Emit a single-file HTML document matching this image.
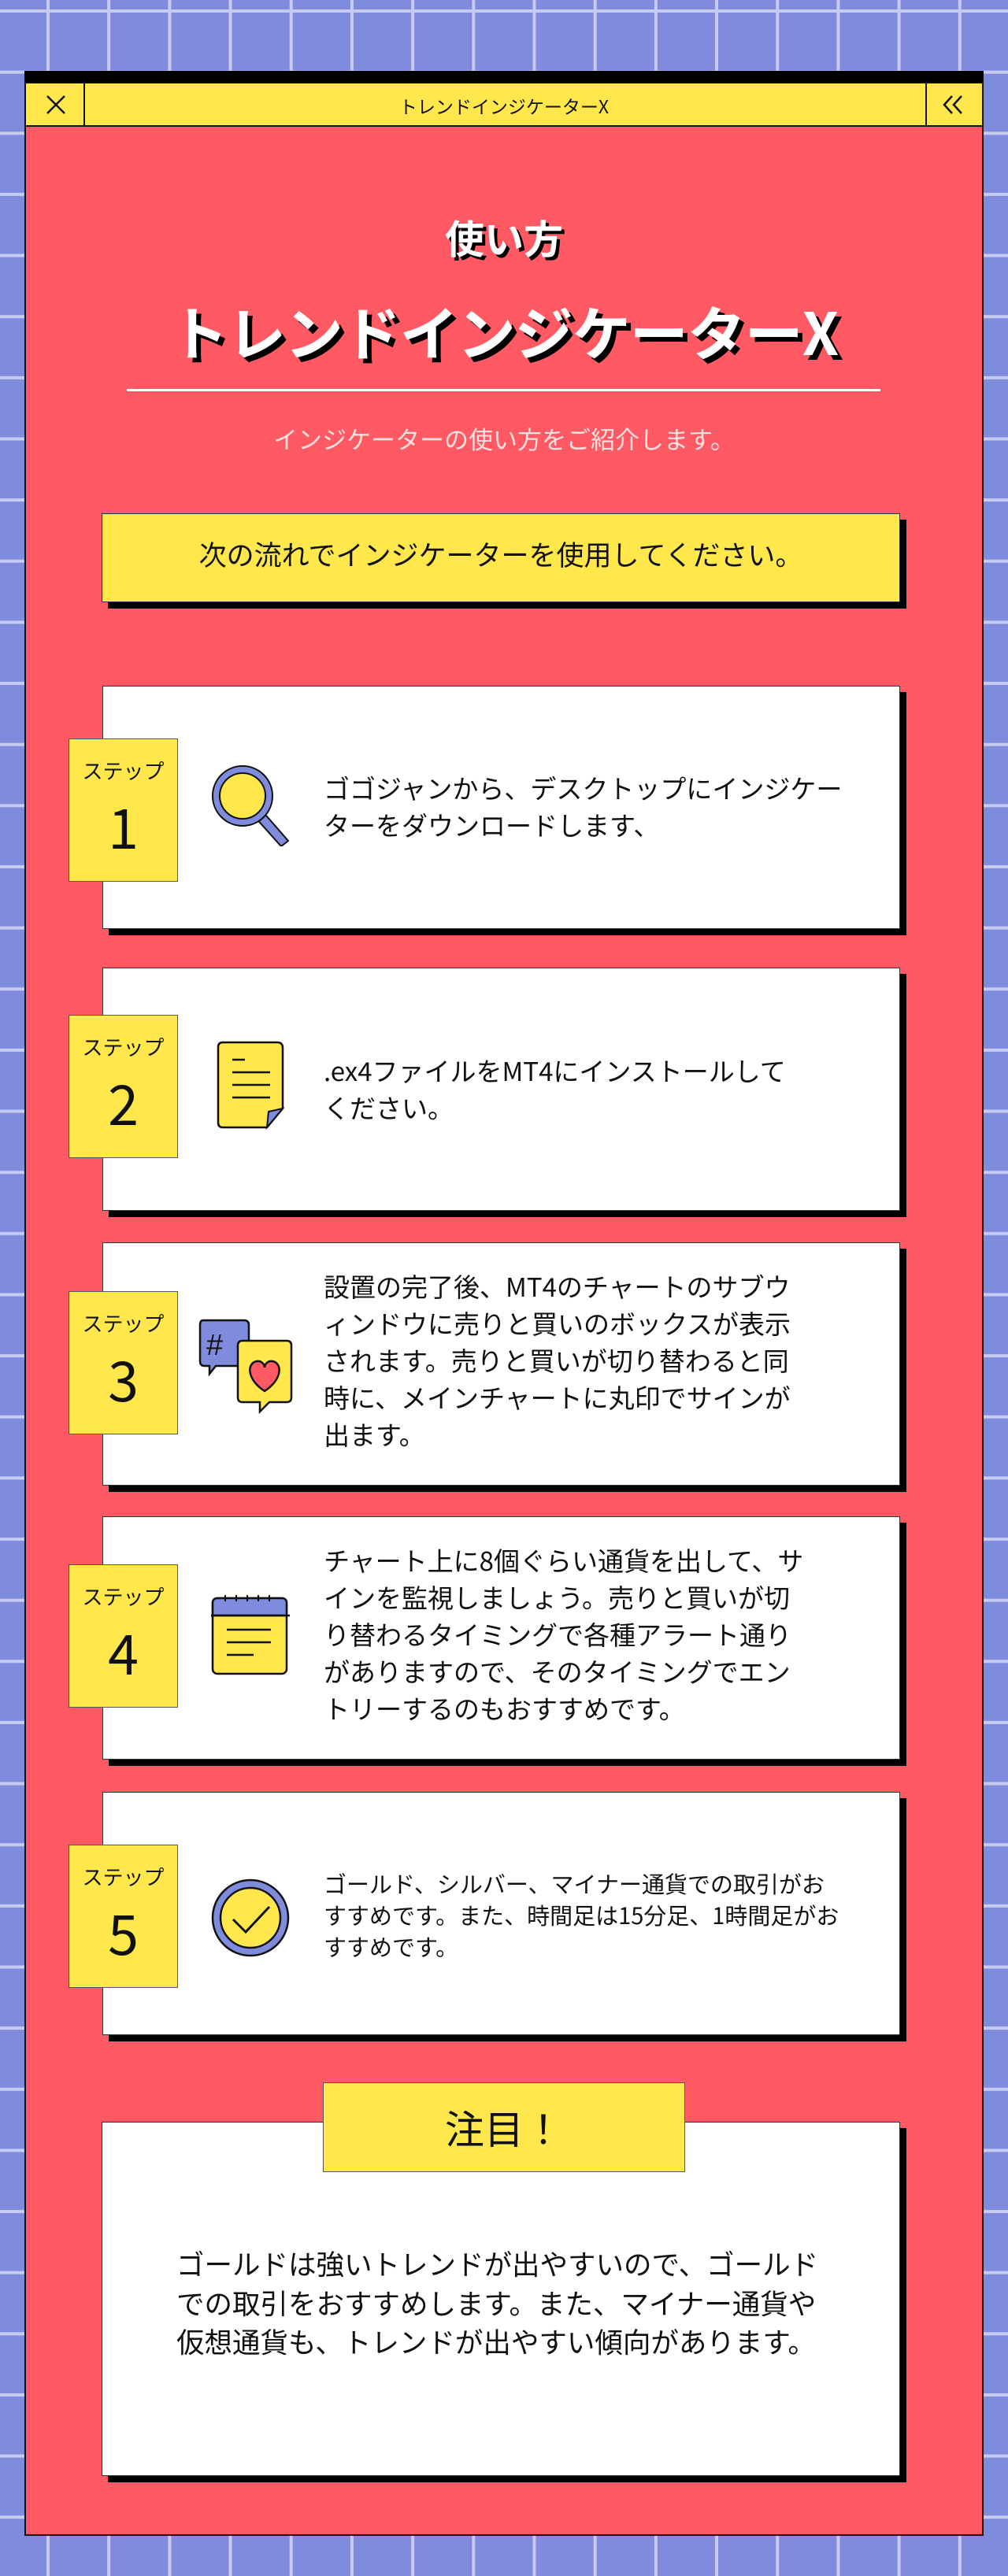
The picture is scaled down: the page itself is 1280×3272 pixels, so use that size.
<!DOCTYPE html>
<html><head><meta charset="utf-8"><style>
*{margin:0;padding:0;box-sizing:border-box}
body{width:1280px;height:3272px;position:relative;overflow:hidden;background:#7f8bdc;font-family:"Liberation Sans","Noto Sans CJK JP",sans-serif;color:#111}
.grid{position:absolute;left:0;top:0;width:1280px;height:3272px;
background-image:linear-gradient(to right,#c7cbf1 0,#c7cbf1 4px,transparent 4px),linear-gradient(to bottom,#c7cbf1 0,#c7cbf1 4px,transparent 4px);
background-size:77.2px 77.65px;background-position:59px 12px}
.abs{position:absolute}
.panel{left:31px;top:90px;width:1218px;height:3131px;background:#ff5a64;border:2px solid #111;border-top:16px solid #000}
.bar{left:33px;top:106px;width:1214px;height:55px;background:#ffe74c;border-bottom:2px solid #111}
.t{white-space:nowrap;font-family:"Noto Sans CJK JP",sans-serif}
.card{background:#fff;border:1px solid #333;box-shadow:8px 8px 0 #000}
.tag{left:87px;width:139px;height:182px;background:#ffe74c;border:1px solid #555}
.tag .s{position:absolute;left:0;width:100%;top:22px;text-align:center;font-size:26px;line-height:36px}
.tag .n{position:absolute;left:0;width:100%;top:60px;text-align:center;font-size:70px;line-height:100px;font-family:"Noto Sans CJK JP",sans-serif}
.txt{left:411px;font-size:33px;line-height:47px;color:#111}
</style></head><body>
<div class="grid"></div>
<div class="abs panel"></div>
<div class="abs bar"></div>
<div class="abs" style="left:106px;top:106px;width:2px;height:55px;background:#111"></div>
<div class="abs" style="left:1175px;top:106px;width:2px;height:55px;background:#111"></div>
<svg class="abs" style="left:56px;top:118px" width="30" height="30"><path d="M4 4L26 26M26 4L4 26" stroke="#111" stroke-width="2.5"/></svg>
<svg class="abs" style="left:1195px;top:118px" width="36" height="30"><path d="M14 4L4 15L14 26M26 4L16 15L26 26" stroke="#111" stroke-width="2.5" fill="none"/></svg>
<div class="abs t" style="left:0;width:1280px;top:118px;text-align:center;font-size:23px;line-height:32px">トレンドインジケーターX</div>

<div class="abs t" style="left:0;width:1280px;top:266px;text-align:center;font-size:50px;line-height:70px;font-weight:bold;color:#fff;text-shadow:4px 4px 0 #000">使い方</div>
<div class="abs t" style="left:0;width:1280px;top:370px;text-align:center;font-size:74px;line-height:100px;font-weight:bold;color:#fff;text-shadow:6px 6px 0 #000;letter-spacing:-1px">トレンドインジケーターX</div>
<div class="abs" style="left:161px;top:494px;width:957px;height:3px;background:#fff"></div>
<div class="abs t" style="left:0;width:1280px;top:535px;text-align:center;font-size:31px;line-height:44px;color:#fde0e0">インジケーターの使い方をご紹介します。</div>

<div class="abs card" style="left:129px;top:652px;width:1014px;height:113px;background:#ffe74c"></div>
<div class="abs t" style="left:129px;width:1014px;top:680px;text-align:center;font-size:35px;line-height:48px">次の流れでインジケーターを使用してください。</div>

<!-- step 1 -->
<div class="abs card" style="left:130px;top:871px;width:1013px;height:309px"></div>
<div class="abs tag" style="top:938px"><div class="s t">ステップ</div><div class="n">1</div></div>
<svg class="abs" style="left:262px;top:965px" width="110" height="110"><path d="M61 72L95 110L104 103L70 64Z" fill="#7f8bdc" stroke="#111" stroke-width="2"/><circle cx="46" cy="46" r="38" fill="#7f8bdc" stroke="#111" stroke-width="2"/><circle cx="46" cy="46" r="29" fill="#ffe74c" stroke="#111" stroke-width="2"/></svg>
<div class="abs t txt" style="top:977px">ゴゴジャンから、デスクトップにインジケー<br>ターをダウンロードします、</div>

<!-- step 2 -->
<div class="abs card" style="left:130px;top:1229px;width:1013px;height:309px"></div>
<div class="abs tag" style="top:1289px"><div class="s t">ステップ</div><div class="n">2</div></div>
<svg class="abs" style="left:275px;top:1322px" width="90" height="116"><path d="M8 2H77Q84 2 84 9V86L64 110H8Q2 110 2 104V8Q2 2 8 2Z" fill="#ffe74c" stroke="#111" stroke-width="2.5"/><path d="M84 86L64 110L66 90Z" fill="#7f8bdc" stroke="#111" stroke-width="2"/><path d="M20 24H36M20 40H68M20 56H68M20 72H68" stroke="#111" stroke-width="2.5"/></svg>
<div class="abs t txt" style="top:1336px">.ex4ファイルをMT4にインストールして<br>ください。</div>

<!-- step 3 -->
<div class="abs card" style="left:130px;top:1578px;width:1013px;height:309px"></div>
<div class="abs tag" style="top:1640px"><div class="s t">ステップ</div><div class="n">3</div></div>
<svg class="abs" style="left:252px;top:1675px" width="125" height="125"><path d="M6 2H58Q64 2 64 8V54Q64 60 58 60H22L14 70V60H8Q2 60 2 54V8Q2 2 6 2Z" fill="#7f8bdc" stroke="#111" stroke-width="2.5"/><text x="10" y="46" font-size="38" font-family="Liberation Sans" fill="#111">#</text><path d="M56 28H112Q118 28 118 34V100Q118 106 112 106H90L78 118V106H56Q50 106 50 100V34Q50 28 56 28Z" fill="#ffe74c" stroke="#111" stroke-width="2.5"/><path d="M84 92C60 76 62 56 74 54C80 53 84 58 84 62C84 58 88 53 94 54C106 56 108 76 84 92Z" fill="#ff5a64" stroke="#111" stroke-width="2.5"/></svg>
<div class="abs t txt" style="top:1610px">設置の完了後、MT4のチャートのサブウ<br>ィンドウに売りと買いのボックスが表示<br>されます。売りと買いが切り替わると同<br>時に、メインチャートに丸印でサインが<br>出ます。</div>

<!-- step 4 -->
<div class="abs card" style="left:130px;top:1926px;width:1013px;height:309px"></div>
<div class="abs tag" style="top:1987px"><div class="s t">ステップ</div><div class="n">4</div></div>
<svg class="abs" style="left:266px;top:2026px" width="104" height="106"><rect x="4" y="4" width="94" height="96" rx="6" fill="#ffe74c" stroke="#111" stroke-width="2.5"/><path d="M4 26V10Q4 4 10 4H92Q98 4 98 10V26Z" fill="#7f8bdc" stroke="#111" stroke-width="2.5"/><path d="M2 26H102" stroke="#111" stroke-width="2.5"/><path d="M20 0V8M34 0V8M48 0V8M62 0V8M76 0V8" stroke="#111" stroke-width="2"/><path d="M22 44H78M22 60H78M22 76H56" stroke="#111" stroke-width="2.5"/></svg>
<div class="abs t txt" style="top:1958px">チャート上に8個ぐらい通貨を出して、サ<br>インを監視しましょう。売りと買いが切<br>り替わるタイミングで各種アラート通り<br>がありますので、そのタイミングでエン<br>トリーするのもおすすめです。</div>

<!-- step 5 -->
<div class="abs card" style="left:130px;top:2276px;width:1013px;height:309px"></div>
<div class="abs tag" style="top:2343px"><div class="s t">ステップ</div><div class="n">5</div></div>
<svg class="abs" style="left:266px;top:2384px" width="104" height="104"><circle cx="52" cy="52" r="48" fill="#7f8bdc" stroke="#111" stroke-width="2.5"/><circle cx="52" cy="52" r="38" fill="#ffe74c" stroke="#111" stroke-width="2.5"/><path d="M30 54L46 70L76 38" stroke="#111" stroke-width="3" fill="none"/></svg>
<div class="abs t txt" style="top:2372px;font-size:29px;line-height:40px">ゴールド、シルバー、マイナー通貨での取引がお<br>すすめです。また、時間足は15分足、1時間足がお<br>すすめです。</div>

<!-- notice -->
<div class="abs card" style="left:129px;top:2695px;width:1014px;height:450px"></div>
<div class="abs" style="left:410px;top:2645px;width:460px;height:114px;background:#ffe74c;border:1px solid #555"></div>
<div class="abs t" style="left:410px;width:460px;top:2667px;text-align:center;font-size:50px;line-height:70px">注目！</div>
<div class="abs t" style="left:224px;top:2850px;font-size:35.5px;line-height:49.5px">ゴールドは強いトレンドが出やすいので、ゴールド<br>での取引をおすすめします。また、マイナー通貨や<br>仮想通貨も、トレンドが出やすい傾向があります。</div>
</body></html>
